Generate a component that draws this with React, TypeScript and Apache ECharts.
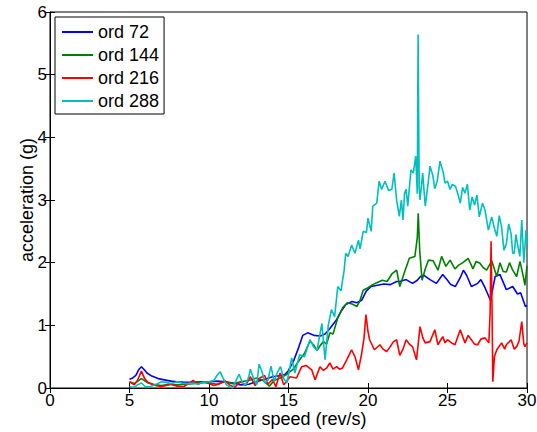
import React, { useEffect, useRef } from "react";
import * as echarts from "echarts";

const seriesNames = ["ord 72", "ord 144", "ord 216", "ord 288"];
const seriesColors = ["#0000ff", "#008000", "#ff0000", "#00bfbf"];

const ord72: [number, number][] = [
  [5.0,0.14],[5.2,0.16],[5.4,0.2],[5.6,0.3],[5.75,0.34],[5.9,0.3],[6.1,0.24],[6.4,0.19],[6.8,0.15],[7.2,0.13],[7.6,0.11],[8.0,0.1],[8.5,0.09],[9.0,0.09],[9.5,0.1],[10.0,0.1],[10.5,0.11],[11.0,0.1],[11.5,0.08],[12.0,0.05],[12.5,0.06],[13.0,0.1],[13.5,0.14],[14.0,0.18],[14.5,0.2],[14.8,0.22],[15.0,0.28],[15.3,0.42],[15.6,0.62],[15.9,0.84],[16.2,0.88],[16.6,0.84],[17.0,0.83],[17.3,0.86],[17.6,0.95],[18.0,1.08],[18.3,1.22],[18.6,1.33],[19.0,1.38],[19.3,1.36],[19.6,1.4],[19.9,1.55],[20.2,1.62],[20.6,1.64],[21.0,1.66],[21.4,1.65],[21.8,1.7],[22.0,1.7],[22.4,1.73],[22.8,1.67],[23.1,1.72],[23.3,1.78],[23.5,1.8],[23.9,1.73],[24.3,1.67],[24.7,1.81],[25.0,1.72],[25.2,1.65],[25.5,1.62],[25.8,1.76],[26.0,1.88],[26.2,1.8],[26.5,1.62],[26.9,1.67],[27.1,1.73],[27.36,1.6],[27.7,1.4],[28.0,1.78],[28.3,1.81],[28.7,1.57],[29.1,1.62],[29.4,1.5],[29.6,1.52],[29.9,1.3],[30.0,1.32]
];

const ord144: [number, number][] = [
  [5.0,0.1],[5.3,0.07],[5.75,0.15],[6.1,0.09],[6.5,0.06],[7.0,0.04],[7.5,0.06],[8.0,0.05],[8.5,0.06],[9.0,0.07],[9.5,0.09],[10.0,0.08],[10.5,0.06],[11.0,0.1],[11.5,0.07],[12.0,0.1],[12.5,0.12],[13.0,0.16],[13.4,0.12],[13.8,0.03],[14.1,0.12],[14.5,0.16],[14.9,0.22],[15.3,0.3],[15.7,0.45],[16.0,0.55],[16.35,0.75],[16.6,0.68],[16.8,0.6],[17.0,0.68],[17.2,0.74],[17.4,0.7],[17.6,0.88],[17.8,0.86],[18.1,1.12],[18.4,1.28],[18.7,1.36],[19.0,1.34],[19.3,1.3],[19.5,1.4],[19.7,1.56],[20.0,1.6],[20.3,1.65],[20.55,1.68],[20.9,1.72],[21.2,1.7],[21.5,1.82],[21.8,1.88],[22.0,1.62],[22.3,1.85],[22.6,2.07],[22.95,2.1],[23.1,2.4],[23.16,2.79],[23.25,2.2],[23.4,1.72],[23.6,1.9],[23.8,2.04],[24.1,2.03],[24.4,1.88],[24.63,2.1],[24.9,1.94],[25.16,2.04],[25.47,1.9],[25.7,1.96],[25.97,2.0],[26.3,2.07],[26.6,1.9],[26.8,2.02],[27.04,1.99],[27.25,1.92],[27.46,1.88],[27.78,2.03],[28.1,1.78],[28.3,2.0],[28.5,1.86],[28.7,1.85],[28.9,2.0],[29.1,1.88],[29.35,1.78],[29.56,2.02],[29.75,1.8],[29.87,1.64],[30.0,1.95]
];

const ord216: [number, number][] = [
  [5.0,0.1],[5.3,0.05],[5.5,0.12],[5.75,0.27],[5.95,0.15],[6.2,0.08],[6.5,0.05],[7.0,0.02],[7.3,0.04],[7.6,0.06],[8.0,0.03],[8.4,0.02],[8.7,0.07],[9.0,0.12],[9.3,0.06],[9.7,0.1],[10.0,0.07],[10.3,0.04],[10.6,0.06],[11.0,0.12],[11.3,0.05],[11.6,0.01],[12.0,0.1],[12.3,0.04],[12.6,0.18],[12.9,0.04],[13.2,0.16],[13.5,0.2],[13.7,0.06],[14.0,0.14],[14.2,0.02],[14.47,0.24],[14.7,0.05],[15.1,0.18],[15.5,0.16],[15.83,0.34],[16.1,0.36],[16.46,0.29],[16.67,0.13],[16.98,0.34],[17.2,0.28],[17.4,0.32],[17.6,0.4],[17.8,0.3],[18.03,0.34],[18.2,0.3],[18.4,0.32],[18.66,0.45],[18.97,0.61],[19.18,0.5],[19.4,0.29],[19.6,0.55],[19.75,0.8],[19.87,1.17],[20.0,0.9],[20.1,0.77],[20.4,0.61],[20.75,0.69],[20.95,0.62],[21.17,0.58],[21.4,0.66],[21.6,0.74],[21.8,0.77],[22.0,0.52],[22.2,0.62],[22.4,0.77],[22.6,0.7],[22.8,0.66],[23.05,0.45],[23.27,0.98],[23.45,0.8],[23.6,0.72],[23.9,0.74],[24.2,0.93],[24.4,0.69],[24.7,0.82],[24.85,0.72],[25.0,0.77],[25.25,0.72],[25.47,0.69],[25.8,0.93],[26.1,0.72],[26.3,0.84],[26.5,0.77],[26.7,0.7],[26.9,0.69],[27.1,0.78],[27.36,0.8],[27.6,0.72],[27.68,1.2],[27.74,2.34],[27.8,1.3],[27.85,0.1],[27.95,0.5],[28.1,0.61],[28.4,0.72],[28.6,0.62],[28.7,0.69],[29.0,0.77],[29.2,0.62],[29.35,0.66],[29.5,0.75],[29.67,1.06],[29.8,0.7],[29.87,0.66],[30.0,0.72]
];

const ord288: [number, number][] = [
  [5.0,0.02],[5.3,0.01],[5.5,0.05],[5.75,0.08],[6.0,0.02],[6.3,0.02],[6.6,0.05],[7.0,0.1],[7.3,0.09],[7.6,0.07],[8.0,0.1],[8.3,0.08],[8.6,0.07],[9.0,0.08],[9.3,0.06],[9.6,0.09],[10.0,0.1],[10.3,0.12],[10.5,0.2],[10.7,0.26],[10.9,0.15],[11.1,0.05],[11.3,0.02],[11.5,0.0],[11.7,0.12],[11.9,0.22],[12.1,0.08],[12.3,0.05],[12.5,0.18],[12.6,0.3],[12.8,0.15],[13.0,0.05],[13.15,0.38],[13.35,0.25],[13.5,0.08],[13.7,0.12],[13.9,0.35],[14.1,0.1],[14.3,0.25],[14.5,0.34],[14.7,0.15],[14.9,0.08],[15.2,0.48],[15.4,0.24],[15.7,0.53],[16.0,0.5],[16.35,0.77],[16.6,0.65],[16.8,0.61],[17.1,1.03],[17.3,0.45],[17.5,1.0],[17.7,1.25],[17.9,1.14],[18.1,1.62],[18.3,1.55],[18.5,1.88],[18.6,2.15],[18.75,2.1],[18.87,2.2],[18.97,2.28],[19.18,2.15],[19.4,2.36],[19.5,2.22],[19.7,2.5],[19.9,2.48],[20.0,2.71],[20.2,2.5],[20.3,2.9],[20.55,2.95],[20.7,3.3],[20.86,3.17],[21.07,3.3],[21.3,3.15],[21.5,3.17],[21.64,3.43],[21.8,3.0],[21.97,2.74],[22.1,3.0],[22.2,2.68],[22.3,3.11],[22.4,3.17],[22.5,2.9],[22.7,3.48],[22.85,3.43],[23.0,3.7],[23.1,3.1],[23.15,5.64],[23.22,3.2],[23.27,3.0],[23.44,3.43],[23.6,2.9],[23.75,3.2],[23.9,3.54],[24.07,3.4],[24.2,3.18],[24.35,3.3],[24.53,3.62],[24.74,3.43],[24.84,3.27],[25.0,3.3],[25.16,3.17],[25.3,3.25],[25.5,3.22],[25.65,3.1],[25.8,2.95],[25.95,3.2],[26.1,3.11],[26.25,3.25],[26.4,2.84],[26.55,3.05],[26.7,2.92],[26.85,3.08],[27.0,2.73],[27.2,2.95],[27.36,2.84],[27.57,2.52],[27.78,2.73],[27.95,2.55],[28.1,2.42],[28.25,2.75],[28.4,2.57],[28.55,2.2],[28.7,2.3],[28.85,2.62],[29.0,2.46],[29.1,2.15],[29.2,2.15],[29.3,2.45],[29.4,2.3],[29.55,2.1],[29.67,2.68],[29.8,2.0],[29.94,2.52],[30.0,2.3]
];

const allSeries = [ord72, ord144, ord216, ord288];

const xAxisTitle = "motor speed (rev/s)";
const yAxisTitle = "acceleration (g)";

const FONT = "'Liberation Sans', Arial, Helvetica, sans-serif";

export default function App() {
  const ref = useRef<HTMLDivElement>(null);
  useEffect(() => {
    if (!ref.current) return;
    const chart = echarts.init(ref.current, undefined, { renderer: "svg" });
    const tickCommon = { show: true, inside: true, length: 5, lineStyle: { color: "#000", width: 1 } };
    chart.setOption({
      animation: false,
      backgroundColor: "#fff",
      textStyle: { fontFamily: FONT },
      grid: {
        left: 50, top: 12, width: 477, height: 376,
        containLabel: false, outerBoundsMode: "none",
        show: true, borderColor: "#000", borderWidth: 1, backgroundColor: "transparent",
      },
      legend: {
        data: seriesNames,
        orient: "vertical",
        left: 55,
        top: 17,
        icon: "rect",
        itemWidth: 31,
        itemHeight: 2,
        itemGap: 5,
        padding: [6, 5, 4, 7],
        borderColor: "#000",
        borderWidth: 1,
        backgroundColor: "#fff",
        textStyle: { fontFamily: FONT, fontSize: 18, color: "#000" },
      },
      xAxis: [
        {
          type: "value", min: 0, max: 30, interval: 5, position: "bottom",
          name: xAxisTitle, nameLocation: "middle", nameGap: 22, nameMoveOverlap: false,
          nameTextStyle: { fontFamily: FONT, fontSize: 18, color: "#000" },
          axisLine: { show: true, lineStyle: { color: "#000", width: 1 } },
          axisTick: tickCommon,
          axisLabel: { fontFamily: FONT, fontSize: 17, color: "#000", margin: 4 },
          splitLine: { show: false },
        },
        {
          type: "value", min: 0, max: 30, interval: 5, position: "top",
          axisLine: { show: false }, axisTick: tickCommon, axisLabel: { show: false }, splitLine: { show: false },
        },
      ],
      yAxis: [
        {
          type: "value", min: 0, max: 6, interval: 1, position: "left",
          name: yAxisTitle, nameLocation: "middle", nameGap: 14, nameMoveOverlap: false,
          nameTextStyle: { fontFamily: FONT, fontSize: 18, color: "#000" },
          axisLine: { show: true, lineStyle: { color: "#000", width: 1 } },
          axisTick: tickCommon,
          axisLabel: { fontFamily: FONT, fontSize: 17, color: "#000", margin: 3 },
          splitLine: { show: false },
        },
        {
          type: "value", min: 0, max: 6, interval: 1, position: "right",
          axisLine: { show: false }, axisTick: tickCommon, axisLabel: { show: false }, splitLine: { show: false },
        },
      ],
      series: allSeries.map((d, i) => ({
        name: seriesNames[i],
        type: "line",
        data: d,
        symbol: "none",
        color: seriesColors[i],
        itemStyle: { color: seriesColors[i] },
        lineStyle: { color: seriesColors[i], width: 1.6 },
        xAxisIndex: 0,
        yAxisIndex: 0,
        z: 2 + i,
      })),
    });
    return () => chart.dispose();
  }, []);
  return <div ref={ref} style={{ width: 537, height: 432, position: "absolute", left: 0, top: 0 }} />;
}
